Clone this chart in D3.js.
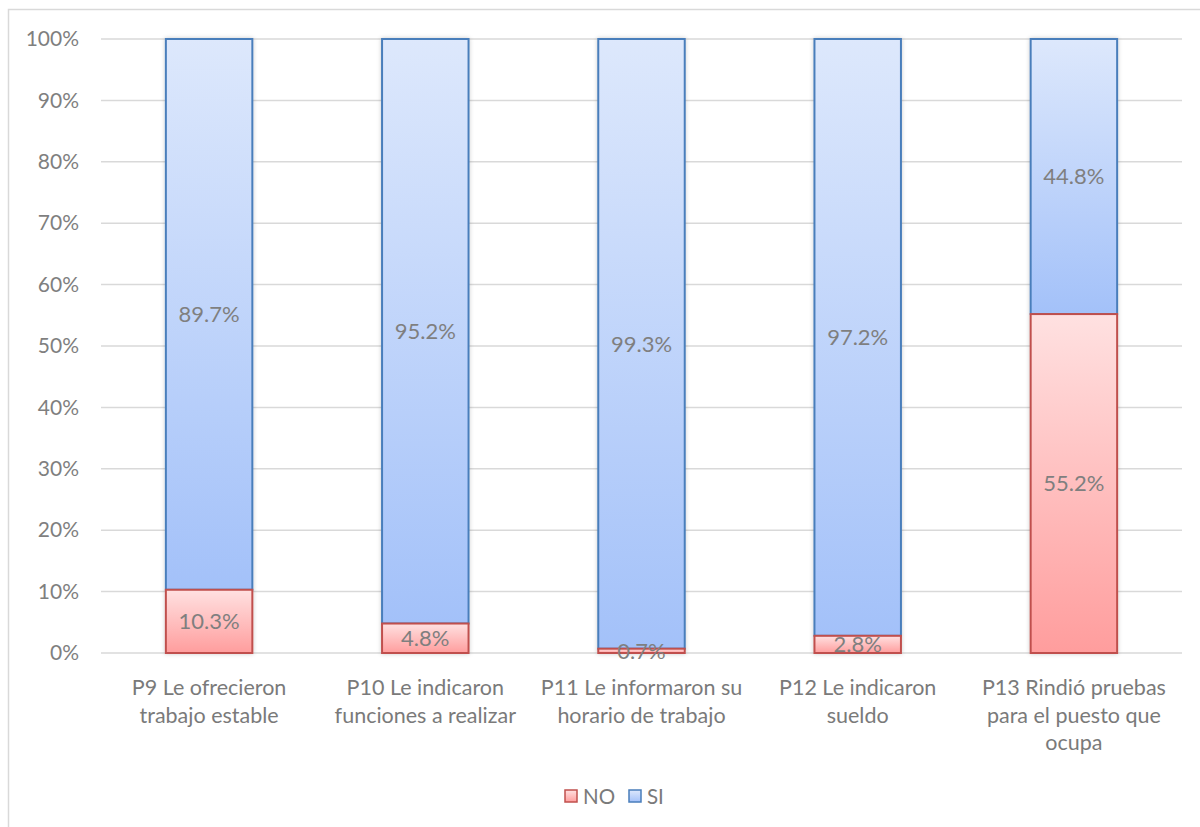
<!DOCTYPE html>
<html><head><meta charset="utf-8">
<script src="https://cdn.jsdelivr.net/npm/d3@7"></script>
<style>body{margin:0;background:#fff;}svg{display:block;font-family:Lato,"Open Sans",sans-serif;}</style>
</head><body>
<svg id="c" width="1200" height="827"></svg>
<script>
const categories = [
  ["P9 Le ofrecieron", "trabajo estable"],
  ["P10 Le indicaron", "funciones a realizar"],
  ["P11 Le informaron su", "horario de trabajo"],
  ["P12 Le indicaron", "sueldo"],
  ["P13 Rindió pruebas", "para el puesto que", "ocupa"]
];
const noValues = [10.3, 4.8, 0.7, 2.8, 55.2];
const siValues = [89.7, 95.2, 99.3, 97.2, 44.8];
const yTicks = [0, 10, 20, 30, 40, 50, 60, 70, 80, 90, 100];
const seriesNames = ["NO", "SI"];

const svg = d3.select("#c");
const plotL = 101, plotR = 1182, plotT = 39, plotB = 653;

svg.append("rect").attr("x", 8.5).attr("y", 9.5).attr("width", 1300).attr("height", 1000)
  .attr("fill", "#fff").attr("stroke", "#d9d9d9").attr("stroke-width", 1.5);

const defs = svg.append("defs");
const gb = defs.append("linearGradient").attr("id", "gBlue").attr("x1", 0).attr("y1", 0).attr("x2", 0).attr("y2", 1);
gb.append("stop").attr("offset", "0%").attr("stop-color", "#dde8fc");
gb.append("stop").attr("offset", "100%").attr("stop-color", "#a3c1f9");
const gr = defs.append("linearGradient").attr("id", "gRed").attr("x1", 0).attr("y1", 0).attr("x2", 0).attr("y2", 1);
gr.append("stop").attr("offset", "0%").attr("stop-color", "#ffe1e1");
gr.append("stop").attr("offset", "100%").attr("stop-color", "#ff9d9d");
const sh = defs.append("filter").attr("id", "sh").attr("x", "-20%").attr("y", "-5%").attr("width", "140%").attr("height", "110%");
sh.append("feDropShadow").attr("dx", 0).attr("dy", 0).attr("stdDeviation", 2).attr("flood-color", "#000").attr("flood-opacity", 0.2);

const x = d3.scaleBand().domain(d3.range(categories.length)).range([plotL, plotR]).paddingInner(0.6).paddingOuter(0.3);
const y = d3.scaleLinear().domain([0, 100]).range([plotB, plotT]);

// gridlines
svg.append("g").selectAll("line").data(yTicks).join("line")
  .attr("x1", plotL).attr("x2", plotR)
  .attr("y1", d => y(d)).attr("y2", d => y(d))
  .attr("stroke", "#d9d9d9").attr("stroke-width", 1.5);

// y axis
const yAxis = d3.axisLeft(y).tickValues(yTicks).tickFormat(d => d + "%").tickSize(0).tickPadding(0);
const ya = svg.append("g").attr("transform", `translate(79,0)`).call(yAxis);
ya.select(".domain").remove();
ya.selectAll("text").attr("font-size", 21).attr("fill", "#7f7f7f").attr("font-family", "Lato,'Open Sans',sans-serif");

// bars
const bars = svg.append("g");
categories.forEach((c, i) => {
  const bx = x(i), bw = x.bandwidth();
  const g = bars.append("g").attr("filter", "url(#sh)");
  g.append("rect").attr("x", bx).attr("width", bw)
    .attr("y", y(noValues[i] + siValues[i])).attr("height", y(noValues[i]) - y(noValues[i] + siValues[i]))
    .attr("fill", "url(#gBlue)").attr("stroke", "#4a7ebb").attr("stroke-width", 2);
  g.append("rect").attr("x", bx).attr("width", bw)
    .attr("y", y(noValues[i])).attr("height", y(0) - y(noValues[i]))
    .attr("fill", "url(#gRed)").attr("stroke", "#c0504d").attr("stroke-width", 2);
});

// data labels
const lbl = svg.append("g").attr("font-size", 22).attr("fill", "#7f7f7f").attr("text-anchor", "middle");
categories.forEach((c, i) => {
  const cx = x(i) + x.bandwidth() / 2;
  lbl.append("text").attr("x", cx).attr("y", y(noValues[i] / 2)).attr("dy", "0.35em").text(noValues[i].toFixed(1) + "%");
  lbl.append("text").attr("x", cx).attr("y", y(noValues[i] + siValues[i] / 2)).attr("dy", "0.35em").text(siValues[i].toFixed(1) + "%");
});

// category labels
const cl = svg.append("g").attr("font-size", 21.5).attr("fill", "#7a7a7a").attr("text-anchor", "middle");
categories.forEach((c, i) => {
  const cx = x(i) + x.bandwidth() / 2;
  c.forEach((line, j) => {
    cl.append("text").attr("x", cx).attr("y", 695 + j * 27.5).text(line);
  });
});

// legend
const leg = svg.append("g").attr("font-size", 20.5).attr("fill", "#7a7a7a");
const legX = [565, 629];
seriesNames.forEach((n, k) => {
  leg.append("rect").attr("x", legX[k]).attr("y", 790).attr("width", 12).attr("height", 12)
    .attr("fill", k === 0 ? "url(#gRed)" : "url(#gBlue)")
    .attr("stroke", k === 0 ? "#c0504d" : "#4a7ebb").attr("stroke-width", 1.5);
  leg.append("text").attr("x", legX[k] + 18).attr("y", 804).text(n);
});
</script>
</body></html>
